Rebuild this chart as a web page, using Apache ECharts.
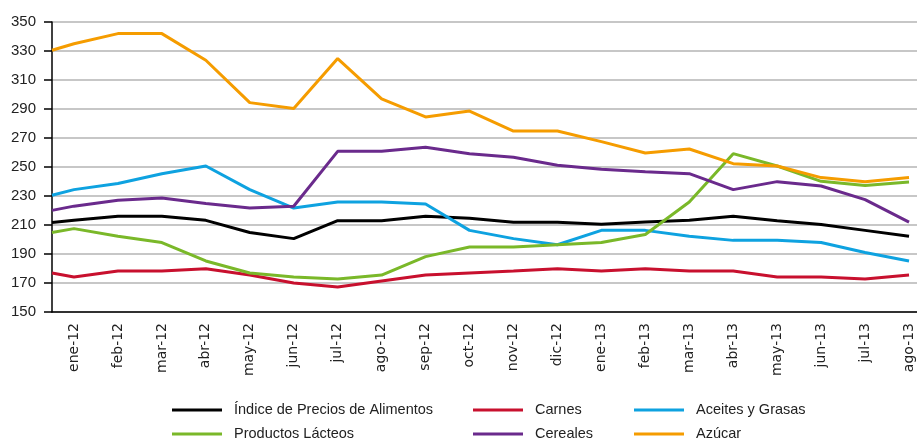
<!DOCTYPE html>
<html>
<head>
<meta charset="utf-8">
<script src="https://cdn.jsdelivr.net/npm/echarts@6/dist/echarts.min.js"></script>
<style>
  html, body { margin: 0; padding: 0; background: #fff; overflow: hidden; }
  #main { width: 935px; height: 440px; }
</style>
</head>
<body>
<div id="main"></div>
<script>
// meses del eje x
const months = ['ene-12', 'feb-12', 'mar-12', 'abr-12', 'may-12', 'jun-12', 'jul-12', 'ago-12', 'sep-12', 'oct-12',
  'nov-12', 'dic-12', 'ene-13', 'feb-13', 'mar-13', 'abr-13', 'may-13', 'jun-13', 'jul-13', 'ago-13'];

// primer valor = punto inicial sobre el eje, luego un valor por mes
const indice = [211.7, 213.2, 216, 216, 213.2, 204.8, 200.6, 213, 213, 216, 214.6, 211.9, 211.9, 210.5, 212, 213.2, 216, 213, 210.3, 206.3, 202.2];
const carnes = [176.9, 174.1, 178.3, 178.3, 179.9, 175.5, 170, 167.2, 171.4, 175.5, 176.9, 178.3, 179.9, 178.3, 179.9, 178.3, 178.3, 174.1, 174.1, 172.8, 175.5];
const aceites = [230.5, 234.4, 238.6, 245.4, 250.7, 234.4, 221.7, 225.9, 225.9, 224.5, 206.3, 200.6, 196.4, 206.3, 206.3, 202.2, 199.4, 199.4, 197.9, 191, 185.2];
const lacteos = [204.8, 207.5, 202.2, 197.9, 185.2, 176.9, 174.1, 172.8, 175.5, 188.2, 194.8, 194.8, 196.4, 197.9, 203.4, 225.9, 259.2, 250.7, 240.1, 237.2, 239.7];
const cereales = [220.1, 223, 227, 228.6, 224.8, 221.7, 222.9, 260.8, 260.8, 263.6, 259.2, 256.7, 251.2, 248.4, 246.8, 245.4, 234.4, 239.9, 236.9, 227.5, 212];
const azucar = [330.5, 335, 342, 342, 323.6, 294.4, 290.3, 324.8, 297, 284.5, 288.6, 274.8, 274.8, 267.5, 259.7, 262.4, 252.3, 250.7, 242.7, 239.9, 242.7];

const yTicks = { min: 150, max: 350, step: 20 };

const sans = '"Liberation Sans", Arial, sans-serif';

// el primer punto va en el borde del eje, el resto en el centro de cada mes
function toPoints (arr) {
  return arr.map(function (v, i) {
    return [i === 0 ? -0.5 : i - 1, v];
  });
}

function line (name, color, arr) {
  return {
    name: name,
    type: 'line',
    xAxisIndex: 1,
    symbol: 'none',
    color: color,
    lineStyle: { width: 3, color: color },
    data: toPoints(arr)
  };
}

function legendCol (left, names) {
  return {
    orient: 'vertical',
    left: left,
    top: 402,
    height: 60,
    padding: 0,
    icon: 'rect',
    itemWidth: 50,
    itemHeight: 3,
    itemGap: 8,
    selectedMode: false,
    textStyle: { fontFamily: sans, fontSize: 14.5, color: '#222', lineHeight: 16, padding: [0, 0, 0, 7] },
    data: names
  };
}

const myChart = echarts.init(document.getElementById('main'));
myChart.setOption({
  animation: false,
  backgroundColor: '#fff',
  grid: { left: 52, right: 4, top: 22, bottom: 128 },
  legend: [
    legendCol(172, ['Índice de Precios de Alimentos', 'Productos Lácteos']),
    legendCol(473, ['Carnes', 'Cereales']),
    legendCol(634, ['Aceites y Grasas', 'Azúcar'])
  ],
  xAxis: [
    {
      type: 'category',
      data: months,
      boundaryGap: true,
      axisLine: { lineStyle: { color: '#000', width: 1.5 } },
      axisTick: { length: 5, lineStyle: { color: '#000', width: 1.5 } },
      axisLabel: { rotate: 90, margin: 11, fontFamily: 'DejaVu Sans', fontSize: 14, color: '#222' },
      splitLine: { show: false }
    },
    {
      type: 'value',
      min: -0.5,
      max: 19.5,
      show: false
    }
  ],
  yAxis: {
    type: 'value',
    min: yTicks.min,
    max: yTicks.max,
    interval: yTicks.step,
    axisLine: { show: true, onZero: false, lineStyle: { color: '#000', width: 1.5 } },
    axisTick: { show: true, length: 8, lineStyle: { color: '#000', width: 1.5 } },
    axisLabel: { margin: 16, fontFamily: sans, fontSize: 15, color: '#222' },
    splitLine: { lineStyle: { color: '#b4b4b4', width: 1.5 } }
  },
  series: [
    line('Índice de Precios de Alimentos', '#000000', indice),
    line('Carnes', '#c8102e', carnes),
    line('Aceites y Grasas', '#0ea2e0', aceites),
    line('Productos Lácteos', '#7ab829', lacteos),
    line('Cereales', '#6a2a8c', cereales),
    line('Azúcar', '#f59c00', azucar)
  ]
});
</script>
</body>
</html>
